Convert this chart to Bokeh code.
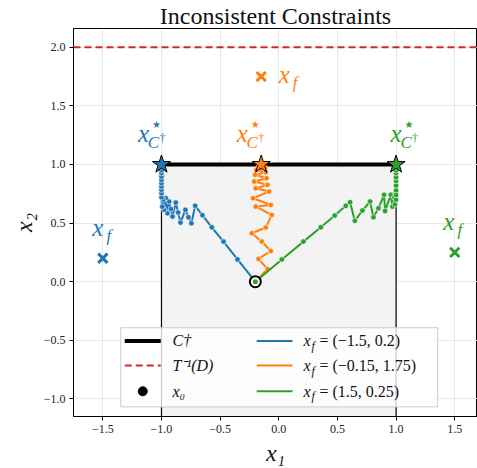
from bokeh.plotting import figure
from bokeh.models import ColumnDataSource, Span, FixedTicker, CustomJSTickFormatter
from bokeh.core.properties import value
from bokeh.embed import file_html
from bokeh.resources import INLINE

# ---------------- data ----------------
title_text = "Inconsistent Constraints"
x_label = "x\u2081"
y_label = "x\u2082"
x_ticks = [-1.5, -1.0, -0.5, 0.0, 0.5, 1.0, 1.5]
x_tick_labels = ["\u22121.5", "\u22121.0", "\u22120.5", "0.0", "0.5", "1.0", "1.5"]
y_ticks = [-1.0, -0.5, 0.0, 0.5, 1.0, 1.5, 2.0]
y_tick_labels = ["\u22121.0", "\u22120.5", "0.0", "0.5", "1.0", "1.5", "2.0"]

# constraint set C-dagger (box with top edge at y = 1)
c_left, c_right, c_top = -1.0, 1.0, 1.0
# boundary of T^-1(D)
d_boundary_y = 2.0

x0_x = [-0.2]
x0_y = [0.0]

colors = ["#1f77b4", "#ff7f0e", "#2ca02c"]
xf_x = [-1.5, -0.15, 1.5]
xf_y = [0.2, 1.75, 0.25]
star_x = [-1.0, -0.15, 1.0]
star_y = [1.0, 1.0, 1.0]

blue_x = [-0.2, -0.352, -0.471, -0.571, -0.651, -0.713, -0.745, -0.77, -0.796, -0.838, -0.858,
          -0.878, -0.906, -0.92, -0.935, -0.949, -0.963, -0.978, -0.986, -0.993, -1.0, -1.0,
          -1.0, -1.0, -1.0, -1.0, -1.0, -1.0, -1.0, -1.0, -1.0]
blue_y = [0.0, 0.19, 0.342, 0.464, 0.567, 0.647, 0.499, 0.55, 0.613, 0.504, 0.59,
          0.675, 0.556, 0.62, 0.684, 0.584, 0.712, 0.613, 0.70, 0.64, 0.72, 0.755,
          0.784, 0.812, 0.84, 0.869, 0.897, 0.926, 0.95, 0.975, 1.0]

orange_x = [-0.2, -0.096, -0.173, -0.068, -0.145, -0.23, -0.111, -0.06, -0.196, -0.068, -0.219,
            -0.083, -0.196, -0.096, -0.21, -0.105, -0.202, -0.111, -0.19, -0.117, -0.168,
            -0.134, -0.15]
orange_y = [0.0, 0.108, 0.194, 0.262, 0.342, 0.413, 0.462, 0.57, 0.641, 0.655, 0.712,
            0.769, 0.797, 0.826, 0.855, 0.883, 0.912, 0.934, 0.955, 0.968, 0.983,
            0.991, 1.0]

green_x = [-0.2, 0.026, 0.21, 0.358, 0.477, 0.571, 0.608, 0.648, 0.713, 0.778, 0.807, 0.85,
           0.898, 0.906, 0.955, 0.969, 0.985, 0.99, 0.997, 1.0, 1.0, 1.0, 1.0, 1.0, 1.0,
           1.0, 1.0, 1.0, 1.0]
green_y = [0.0, 0.19, 0.342, 0.464, 0.564, 0.647, 0.678, 0.519, 0.607, 0.684, 0.55, 0.627,
           0.741, 0.604, 0.741, 0.641, 0.72, 0.66, 0.755, 0.70, 0.74, 0.78, 0.82, 0.86,
           0.89, 0.926, 0.95, 0.975, 1.0]

trajectories = [(blue_x, blue_y), (orange_x, orange_y), (green_x, green_y)]


def fmt(v):
    return f"{v:g}".replace("-", "\u2212")


legend_left_labels = ["C\u2020", "T\u207b\u00b9(D)", "x\u2080"]
legend_right_labels = [f"= ({fmt(a)}, {fmt(b)})" for a, b in zip(xf_x, xf_y)]

# ---------------- figure ----------------
SERIF = "Liberation Serif"
x_lim = (-1.75, 1.694)
y_lim = (-1.15, 2.16)

p = figure(width=477, height=468, x_range=x_lim, y_range=y_lim,
           output_backend="svg", toolbar_location=None, title=title_text)
p.min_border_left = 73
p.min_border_right = 0
p.min_border_top = 0
p.min_border_bottom = 0
p.title.text_font = SERIF
p.title.text_font_size = "24px"
p.title.text_font_style = "normal"
p.title.align = "center"
p.title.text_color = "#111111"
p.title.standoff = 0
p.title.offset = 0

p.background_fill_color = "white"
p.border_fill_color = "white"
p.outline_line_color = "black"
p.outline_line_width = 1

for ax, ticks, labels, lab in ((p.xaxis[0], x_ticks, x_tick_labels, x_label),
                               (p.yaxis[0], y_ticks, y_tick_labels, y_label)):
    ax.ticker = FixedTicker(ticks=ticks)
    ax.formatter = CustomJSTickFormatter(
        args=dict(tv=ticks, tl=labels),
        code="const i = tv.findIndex(t => Math.abs(t - tick) < 1e-9); return i >= 0 ? tl[i] : '';")
    ax.axis_line_color = "black"
    ax.major_tick_line_color = "black"
    ax.major_tick_out = 4
    ax.major_tick_in = 0
    ax.minor_tick_line_color = None
    ax.major_label_text_font = SERIF
    ax.major_label_text_font_size = "12px"
    ax.major_label_text_color = "#222222"
    ax.axis_label = lab
    ax.axis_label_text_font = SERIF
    ax.axis_label_text_font_style = "italic"
    ax.axis_label_text_font_size = "24px"
    ax.axis_label_text_color = "#111111"
    ax.axis_label_standoff = 4
    ax.major_label_standoff = 4

p.xgrid.ticker = FixedTicker(ticks=x_ticks)
p.ygrid.ticker = FixedTicker(ticks=y_ticks)
p.grid.grid_line_color = "#e8e8e8"
p.grid.grid_line_width = 1

# constraint region
p.quad(left=[c_left], right=[c_right], bottom=[y_lim[0] - 1], top=[c_top],
       fill_color="#f3f3f3", line_color="black", line_width=1.2)
p.line([c_left, c_right], [c_top, c_top], line_color="black", line_width=4)

# dataset boundary
p.add_layout(Span(location=d_boundary_y, dimension="width", line_color="#d62728",
                  line_width=2.2, line_dash="7 4"))

# trajectories
for (tx, ty), col in zip(trajectories, colors):
    p.line(tx, ty, line_color=col, line_width=2)
    p.scatter(tx, ty, size=5.5, fill_color=col, line_color="white", line_alpha=0.6, line_width=1)

# x0
p.scatter(x0_x, x0_y, size=11, fill_color="white", line_color="black", line_width=2)
p.scatter([green_x[0]], [green_y[0]], size=5, fill_color=colors[2], line_color=None)

# optimum stars
p.scatter(star_x, star_y, marker="star", size=19, fill_color=colors, line_color="black", line_width=1)

# x_f markers
p.scatter(xf_x, xf_y, marker="x", size=13, line_color=colors, line_width=3)

# x_f labels
xf_dx = [-5, 23, -6]
xf_dy = [-31, -2, -31]
src_xf = ColumnDataSource(dict(x=xf_x, y=xf_y, c=colors, dx=xf_dx, dy=xf_dy,
                               dfx=[d + 11 for d in xf_dx], dfy=[d + 8 for d in xf_dy],
                               t1=["x"] * 3, t2=["f"] * 3))
p.text(x="x", y="y", text="t1", x_offset="dx", y_offset="dy", text_color="c", source=src_xf,
       text_font=value(SERIF), text_font_style="italic", text_font_size="25px",
       text_align="center", text_baseline="middle")
p.text(x="x", y="y", text="t2", x_offset="dfx", y_offset="dfy", text_color="c", source=src_xf,
       text_font=value(SERIF), text_font_style="italic", text_font_size="17px",
       text_align="center", text_baseline="middle")

# star labels  x^*_{C†}
st_dx = [-18, -19, 0]
st_dy = [-31, -31, -31]
src_st = ColumnDataSource(dict(x=star_x, y=star_y, c=colors, dx=st_dx, dy=st_dy,
                               sx=[d + 13 for d in st_dx], sy=[d - 9 for d in st_dy],
                               cx=[d + 10 for d in st_dx], cy=[d + 9 for d in st_dy],
                               gx=[d + 19 for d in st_dx], gy=[d + 5 for d in st_dy],
                               t1=["x"] * 3, t2=["\u2605"] * 3, t3=["C"] * 3, t4=["\u2020"] * 3))
p.text(x="x", y="y", text="t1", x_offset="dx", y_offset="dy", text_color="c", source=src_st,
       text_font=value(SERIF), text_font_style="italic", text_font_size="25px",
       text_align="center", text_baseline="middle")
p.text(x="x", y="y", text="t2", x_offset="sx", y_offset="sy", text_color="c", source=src_st,
       text_font=value("DejaVu Sans"), text_font_size="10px",
       text_align="center", text_baseline="middle")
p.text(x="x", y="y", text="t3", x_offset="cx", y_offset="cy", text_color="c", source=src_st,
       text_font=value(SERIF), text_font_style="italic", text_font_size="17px",
       text_align="center", text_baseline="middle")
p.text(x="x", y="y", text="t4", x_offset="gx", y_offset="gy", text_color="c", source=src_st,
       text_font=value(SERIF), text_font_size="12px",
       text_align="center", text_baseline="middle")

# ---------------- legend (drawn by hand) ----------------
lg_left, lg_right, lg_top, lg_bottom = -1.347, 1.355, -0.393, -1.068
rows = [-0.505, -0.715, -0.935]
h1 = (-1.313, -1.006)
h2 = (-0.188, 0.117)
t1x = -0.906
t2x = 0.21

p.quad(left=[lg_left], right=[lg_right], top=[lg_top], bottom=[lg_bottom],
       fill_color="white", fill_alpha=0.8, line_color="#cccccc", line_width=1)
p.line(list(h1), [rows[0]] * 2, line_color="black", line_width=4)
p.line(list(h1), [rows[1]] * 2, line_color="#d62728", line_width=2.2, line_dash="7 4")
p.scatter([(h1[0] + h1[1]) / 2], [rows[2]], size=9, fill_color="black", line_color="black")
for r, col in zip(rows, colors):
    p.line(list(h2), [r, r], line_color=col, line_width=2)

p.text(x=[t1x] * 3, y=rows, text=legend_left_labels, text_font=value(SERIF),
       text_font_style="italic", text_font_size="16px", text_color="#111111",
       text_align="left", text_baseline="middle")
p.text(x=[t2x] * 3, y=rows, text=["x"] * 3, text_font=value(SERIF),
       text_font_style="italic", text_font_size="16px", text_color="#111111",
       text_align="left", text_baseline="middle")
p.text(x=[t2x] * 3, y=rows, text=["f"] * 3, x_offset=8, y_offset=5, text_font=value(SERIF),
       text_font_style="italic", text_font_size="12px", text_color="#111111",
       text_align="left", text_baseline="middle")
p.text(x=[t2x] * 3, y=rows, text=legend_right_labels, x_offset=16, text_font=value(SERIF),
       text_font_size="16px", text_color="#111111",
       text_align="left", text_baseline="middle")

open("out.html", "w").write(file_html(p, INLINE))
